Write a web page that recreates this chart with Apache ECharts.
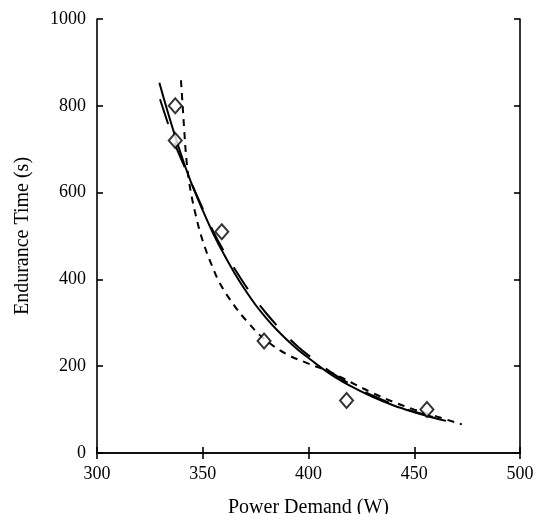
<!DOCTYPE html>
<html>
<head>
<meta charset="utf-8">
<script src="https://cdn.jsdelivr.net/npm/echarts@6/dist/echarts.min.js"></script>
<style>html,body{margin:0;padding:0;background:#fff}#c{width:542px;height:514px}</style>
</head>
<body>
<div id="c"></div>
<script>
// Measured data (diamonds)
const pointX = [337, 337, 359, 379, 418, 456];
const pointY = [800, 720, 510, 258, 121, 100];
// Solid curve
const solidX = [329.5, 333, 337, 341, 345, 350, 355, 360, 365, 370, 375, 380, 385, 390, 395, 400, 410, 420, 430, 440, 450, 460, 465];
const solidY = [853, 793, 729, 670, 617, 559, 505, 458, 415, 376, 341, 311, 284, 260, 238, 219, 183, 154, 130, 110, 94, 80, 74];
// Short-dashed curve
const shortX = [339.7, 340.5, 341.3, 342.2, 343.4, 344.8, 346.5, 348.5, 351, 354, 358, 365, 371, 379, 390, 400, 410, 420, 430, 440, 450, 460, 472.5];
const shortY = [859, 800, 740, 680, 630, 590, 552, 513, 474, 436, 392, 339, 303, 263, 227, 206, 187, 163, 139, 118, 100, 85, 66];
// Long-dashed curve
const longX = [329.8, 333.7, 337, 341, 345, 350, 355, 360, 365, 370, 375, 380, 385, 390, 395, 400, 410, 420, 430, 440, 450, 463];
const longY = [815, 757, 710, 664, 618, 563, 510, 465, 425, 387, 353, 322, 294, 268, 245, 225, 188, 158, 133, 112, 95, 78];
// Axis ticks
const xTicks = [300, 350, 400, 450, 500];
const yTicks = [0, 200, 400, 600, 800, 1000];

const zip = (a, b) => a.map((v, i) => [v, b[i]]);
const font = 'Liberation Serif';
const black = '#000';

const chart = echarts.init(document.getElementById('c'), null, {renderer: 'canvas'});
const baseAxis = {
  axisLine: {show: true, lineStyle: {color: black, width: 1.6}},
  axisTick: {show: true, inside: true, length: 6, lineStyle: {color: black, width: 1.6}},
  splitLine: {show: false}
};
chart.setOption({
  animation: false,
  backgroundColor: '#fff',
  grid: {left: 97, right: 22, top: 19, bottom: 61, containLabel: false, outerBoundsMode: 'none'},
  xAxis: [
    Object.assign({}, baseAxis, {
      type: 'value', min: xTicks[0], max: xTicks[xTicks.length - 1], interval: 50,
      name: 'Power Demand (W)', nameLocation: 'middle', nameGap: 45,
      nameTextStyle: {fontFamily: font, fontSize: 20, color: black},
      axisLabel: {fontFamily: font, fontSize: 18, color: black, margin: 12,
                  formatter: v => String(v)}
    }),
    Object.assign({}, baseAxis, {
      type: 'value', position: 'top', min: 300, max: 500, interval: 50,
      axisLabel: {show: false}
    })
  ],
  yAxis: [
    Object.assign({}, baseAxis, {
      type: 'value', min: yTicks[0], max: yTicks[yTicks.length - 1], interval: 200,
      name: 'Endurance Time (s)', nameLocation: 'middle', nameGap: 64,
      nameTextStyle: {fontFamily: font, fontSize: 20, color: black},
      axisLabel: {fontFamily: font, fontSize: 18, color: black, margin: 11,
                  formatter: v => String(v)}
    }),
    Object.assign({}, baseAxis, {
      type: 'value', position: 'right', min: 0, max: 1000, interval: 200,
      axisLabel: {show: false}
    })
  ],
  series: [
    {type: 'line', data: zip(solidX, solidY), smooth: 0.4, showSymbol: false,
     lineStyle: {color: black, width: 2}},
    {type: 'line', data: zip(shortX, shortY), smooth: 0.4, showSymbol: false,
     lineStyle: {color: black, width: 2, type: [7, 6]}},
    {type: 'line', data: zip(longX, longY), smooth: 0.4, showSymbol: false,
     lineStyle: {color: black, width: 2, type: [26, 20]}},
    {type: 'scatter', data: zip(pointX, pointY), symbol: 'diamond', symbolSize: [13, 15],
     itemStyle: {color: '#fff', borderColor: black, borderWidth: 2}, z: 5}
  ]
});
</script>
</body>
</html>
